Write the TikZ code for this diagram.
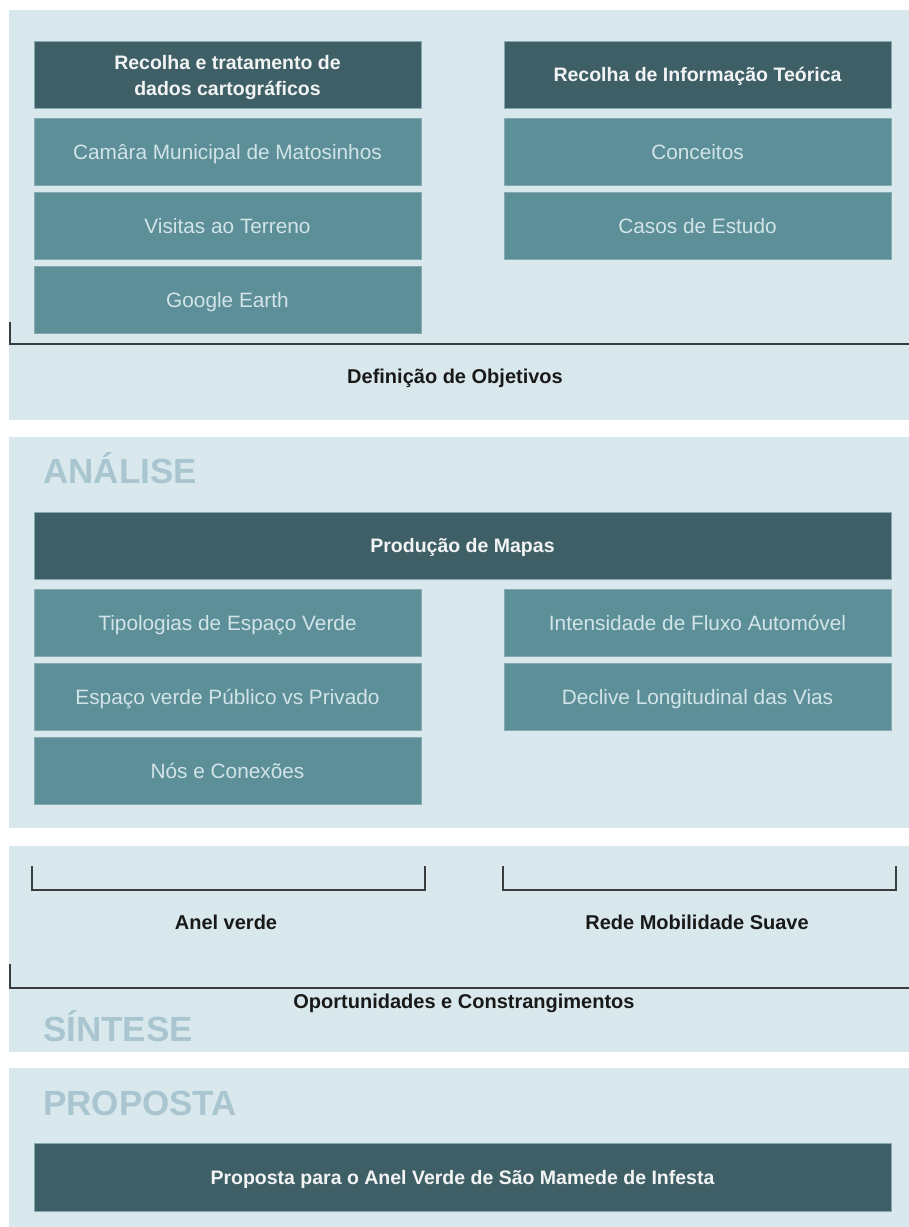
\documentclass[tikz,border=0pt]{standalone}
\usepackage{fontspec}
\setmainfont{Liberation Sans}
\definecolor{panelc}{HTML}{D9E8EC}
\definecolor{darkc}{HTML}{3F5F67}
\definecolor{lightc}{HTML}{5C8F98}
\definecolor{ltext}{HTML}{D2E4E7}
\definecolor{dtext}{HTML}{F2F4F4}
\definecolor{headc}{HTML}{A9C6D0}
\definecolor{linec}{HTML}{3A3D3E}
\definecolor{edgec}{HTML}{86AAB1}
\tikzset{
  panel/.style={fill=panelc, draw=none},
  boxbase/.style={anchor=north west, inner sep=0pt, outer sep=0pt, minimum height=67pt, align=center},
  lbox/.style={boxbase, fill=lightc, draw=edgec, line width=0.6pt, text=ltext, font=\fontsize{20.8}{25}\selectfont, text height=19pt, text depth=4pt},
  dbox/.style={boxbase, fill=darkc, draw=edgec, line width=0.6pt, text=dtext, font=\bfseries\fontsize{19.5}{26}\selectfont, text height=18pt, text depth=4pt},
  dtwo/.style={text=dtext, font=\bfseries\fontsize{19.5}{26}\selectfont, align=center, inner sep=0pt},
  narrow/.style={minimum width=387pt},
  wide/.style={minimum width=857pt},
  blabel/.style={text=black!90, font=\bfseries\fontsize{20}{24}\selectfont, inner sep=0pt},
  heading/.style={anchor=base west, text=headc, font=\bfseries\fontsize{35}{40}\selectfont, inner sep=0pt},
  bracket/.style={draw=linec, line width=2pt},
  bigbracket/.style={draw=linec, line width=2.6pt}
}
\begin{document}
\begin{tikzpicture}[x=1pt,y=-1pt]
\useasboundingbox[fill=white] (0,0) rectangle (909,1227);
% panels
\fill[panel] (9,10) rectangle (909,420);
\fill[panel] (9,437) rectangle (909,828);
\fill[panel] (9,846) rectangle (909,1052);
\fill[panel] (9,1068) rectangle (909,1227);
% panel 1
\node[dbox,narrow] (h1) at (34,41) {};
\node[dtwo] (h1t) at ([yshift=-2.5pt]h1.center) {Recolha e tratamento de\\dados cartográficos};
\node[dbox,narrow] (h2) at (504,41) {Recolha de Informação Teórica};
\node[lbox,narrow] (cm) at (34,118) {Camâra Municipal de Matosinhos};
\node[lbox,narrow] (vt) at (34,192) {Visitas ao Terreno};
\node[lbox,narrow] (ge) at (34,266) {Google Earth};
\node[lbox,narrow] (co) at (504,118) {Conceitos};
\node[lbox,narrow] (ce) at (504,192) {Casos de Estudo};
\coordinate (b1a) at (10,322);
\coordinate (b1b) at (10,344);
\coordinate (b1c) at (909,344);
\draw[bigbracket] (b1a) -- (b1b) -- (b1c);
\node[blabel] (def) at (455,378) {Definição de Objetivos};
% panel 2
\node[heading] (an) at (43,483) {ANÁLISE};
\node[dbox,wide] (pm) at (34,512) {Produção de Mapas};
\node[lbox,narrow] (te) at (34,589) {Tipologias de Espaço Verde};
\node[lbox,narrow] (ep) at (34,663) {Espaço verde Público vs Privado};
\node[lbox,narrow] (nc) at (34,737) {Nós e Conexões};
\node[lbox,narrow] (fa) at (504,589) {Intensidade de Fluxo Automóvel};
\node[lbox,narrow] (dl) at (504,663) {Declive Longitudinal das Vias};
% panel 3
\coordinate (l1) at (32,866);
\coordinate (l2) at (32,890);
\coordinate (l3) at (425,890);
\coordinate (l4) at (425,866);
\draw[bracket] (l1) -- (l2) -- (l3) -- (l4);
\coordinate (r1) at (503,866);
\coordinate (r2) at (503,890);
\coordinate (r3) at (896,890);
\coordinate (r4) at (896,866);
\draw[bracket] (r1) -- (r2) -- (r3) -- (r4);
\node[blabel] (av) at (226,922) {Anel verde};
\node[blabel] (rm) at (697,922) {Rede Mobilidade Suave};
\coordinate (b3a) at (10,964);
\coordinate (b3b) at (10,988);
\coordinate (b3c) at (909,988);
\draw[bigbracket] (b3a) -- (b3b) -- (b3c);
\node[blabel] (oc) at (464,1003) {Oportunidades e Constrangimentos};
\node[heading] (si) at (43,1041) {SÍNTESE};
% panel 4
\node[heading] (pr) at (43,1115) {PROPOSTA};
\node[dbox,wide,minimum height=68pt] (pa) at (34,1143) {Proposta para o Anel Verde de São Mamede de Infesta};
\end{tikzpicture}
\end{document}
